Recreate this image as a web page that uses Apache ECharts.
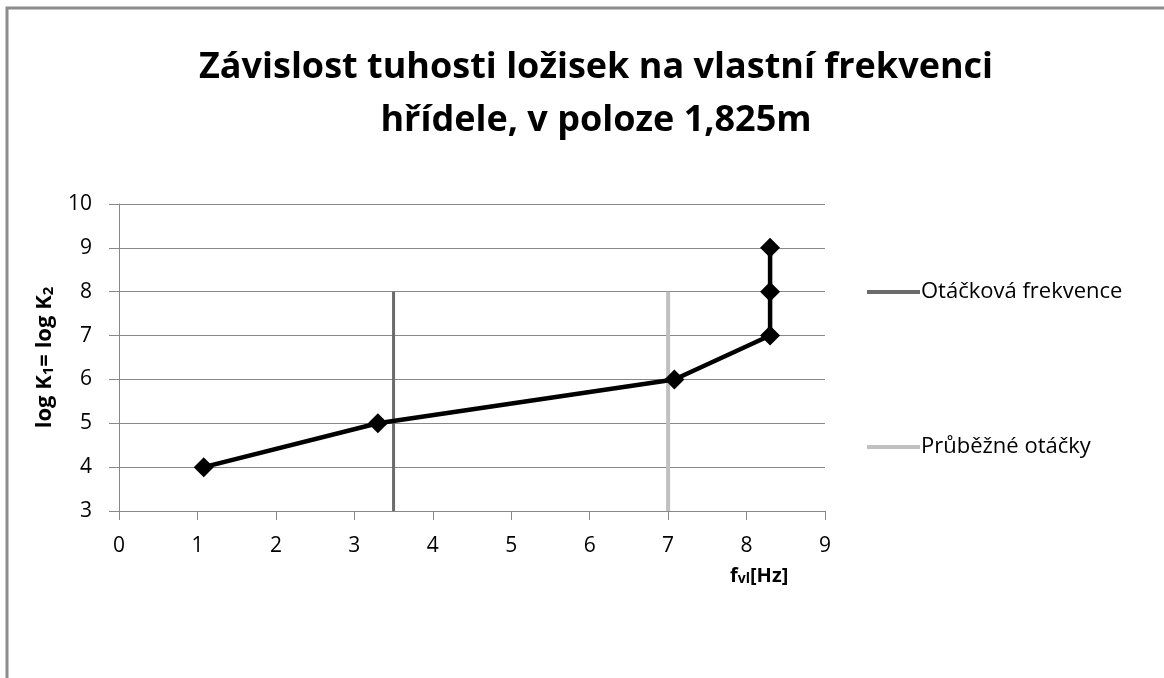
<!DOCTYPE html>
<html>
<head>
<meta charset="utf-8">
<script src="https://cdn.jsdelivr.net/npm/echarts@6/dist/echarts.min.js"></script>
<style>html,body{margin:0;padding:0;background:#fff;}#c{width:1164px;height:678px;}</style>
</head>
<body>
<div id="c"></div>
<script>
var titleLines = ['Závislost tuhosti ložisek na vlastní frekvenci', 'hřídele, v poloze 1,825m'];
var xValues = [1.08, 3.3, 7.08, 8.3, 8.3, 8.3];
var yValues = [4, 5, 6, 7, 8, 9];
var seriesNames = ['Otáčková frekvence', 'Průběžné otáčky'];
var otackovaX = [3.5, 3.5];
var otackovaY = [3, 8];
var prubezneX = [7, 7];
var prubezneY = [3, 8];

function pairs(xs, ys) { return xs.map(function (x, i) { return [x, ys[i]]; }); }

var font = '"Open Sans", "Liberation Sans", sans-serif';
var chart = echarts.init(document.getElementById('c'), null, {renderer: 'canvas'});
chart.setOption({
  animation: false,
  backgroundColor: '#fff',
  title: {
    text: titleLines.join('\n'),
    left: 591, top: 36, textAlign: 'center',
    textStyle: {fontFamily: font, fontWeight: 'bold', fontSize: 36, color: '#000', lineHeight: 53}
  },
  graphic: [{
    type: 'rect', z: -1, silent: true,
    shape: {x: 7, y: 8, width: 1300, height: 800},
    style: {fill: 'none', stroke: '#8c8c8c', lineWidth: 3}
  }, {
    type: 'text', left: 730, top: 566,
    style: {
      text: '{a|f}{b|vl}{a|[Hz]}',
      rich: {
        a: {fontFamily: font, fontWeight: 'bold', fontSize: 20, fill: '#000'},
        b: {fontFamily: font, fontWeight: 'bold', fontSize: 14, fill: '#000', padding: [7, 0, 0, 0]}
      }
    }
  }],
  legend: {
    orient: 'vertical', left: 862, top: 276, itemGap: 133,
    itemWidth: 53, itemHeight: 4,
    data: seriesNames.map(function (n) { return {name: n, icon: 'rect'}; }),
    textStyle: {fontFamily: font, fontSize: 22, color: '#000', padding: [0, 0, 0, -4]}
  },
  grid: {left: 119, right: 339, top: 204, bottom: 167, containLabel: false},
  xAxis: {
    type: 'value', min: 0, max: 9, interval: 1,
    axisLine: {show: true, lineStyle: {color: '#888', width: 1}},
    axisTick: {show: true, length: 9, lineStyle: {color: '#888'}},
    axisLabel: {fontFamily: font, fontSize: 21, color: '#000', margin: 25},
    splitLine: {show: false}
  },
  yAxis: {
    type: 'value', min: 3, max: 10, interval: 1,
    name: '{a|log K}{b|1}{a|= log K}{b|2}', nameLocation: 'middle', nameGap: 63, nameRotate: 90,
    nameTextStyle: {
      fontFamily: font, fontWeight: 'bold', fontSize: 22, color: '#000',
      rich: {
        a: {fontFamily: font, fontWeight: 'bold', fontSize: 22, color: '#000'},
        b: {fontFamily: font, fontWeight: 'bold', fontSize: 15, color: '#000', padding: [8, 0, 0, 0]}
      }
    },
    axisLine: {show: true, lineStyle: {color: '#888', width: 1}},
    axisTick: {show: true, length: 10, lineStyle: {color: '#888'}},
    axisLabel: {fontFamily: font, fontSize: 21, color: '#000', margin: 27},
    splitLine: {show: true, lineStyle: {color: '#888', width: 1}}
  },
  series: [{
    name: 'data', type: 'line', data: pairs(xValues, yValues),
    symbol: 'diamond', symbolSize: 20, z: 5,
    lineStyle: {color: '#000', width: 4.5},
    itemStyle: {color: '#000'}
  }, {
    name: seriesNames[0], type: 'line', data: pairs(otackovaX, otackovaY),
    symbol: 'none', z: 3,
    lineStyle: {color: '#6b6b6b', width: 3},
    itemStyle: {color: '#6b6b6b'}
  }, {
    name: seriesNames[1], type: 'line', data: pairs(prubezneX, prubezneY),
    symbol: 'none', z: 3,
    lineStyle: {color: '#c0c0c0', width: 4},
    itemStyle: {color: '#c0c0c0'}
  }]
});
</script>
</body>
</html>
